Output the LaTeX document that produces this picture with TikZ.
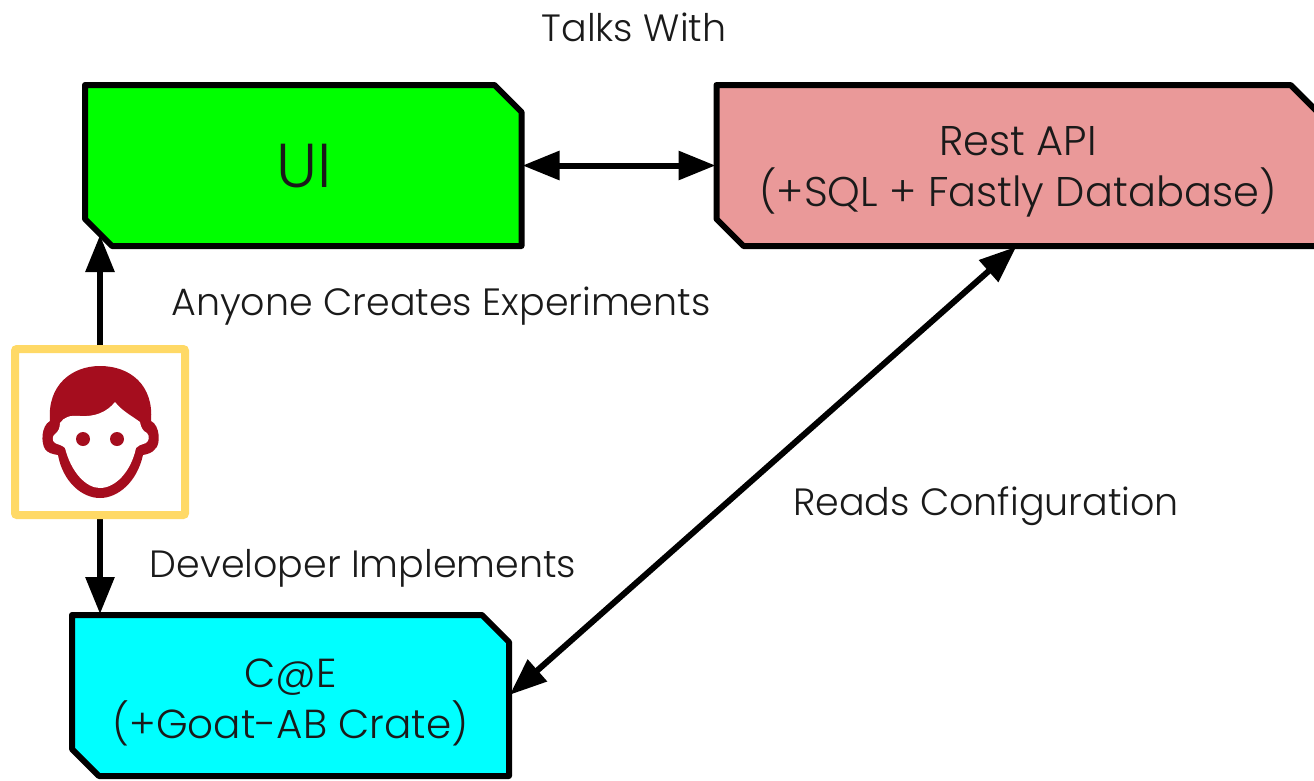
\documentclass[tikz,border=0pt]{standalone}
\usepackage{fontspec}
\setmainfont{Poppins Light}
\usetikzlibrary{arrows.meta,backgrounds}
\definecolor{uigreen}{HTML}{00FF00}
\definecolor{apipink}{HTML}{EA9999}
\definecolor{caecyan}{HTML}{00FFFF}
\definecolor{personrim}{HTML}{FFD966}
\definecolor{personred}{HTML}{A50D1E}
\definecolor{textgrey}{HTML}{1A1A1A}
\tikzset{
  x=1pt,y=-1pt,
  boxnode/.style={rectangle,outer sep=0pt,inner sep=0pt},
  boxtext/.style={inner sep=0pt,align=center,text=textgrey,font=\fontsize{41.5}{51}\selectfont},
  chamfer/.style={draw=black,line width=6pt,line join=round},
  link/.style={draw=black,line width=6pt,{Triangle[length=37pt,width=28pt]}-{Triangle[length=37pt,width=28pt]}},
  oneway/.style={draw=black,line width=6pt,-{Triangle[length=37pt,width=28pt]}},
  caption/.style={text=textgrey,inner sep=0pt,font=\fontsize{38}{45}\selectfont},
}
\newcommand{\chambox}[2]{%
  \fill[#2] (#1.north west) -- ([xshift=-27pt]#1.north east) -- ([yshift=-27pt]#1.north east)
    -- (#1.south east) -- ([xshift=27pt]#1.south west) -- ([yshift=27pt]#1.south west) -- cycle;
  \draw[chamfer] (#1.north west) -- ([xshift=-27pt]#1.north east) -- ([yshift=-27pt]#1.north east)
    -- (#1.south east) -- ([xshift=27pt]#1.south west) -- ([yshift=27pt]#1.south west) -- cycle;}
\begin{document}
\begin{tikzpicture}
\useasboundingbox (0,0) rectangle (1314,780);
\node[boxnode,minimum width=436.5pt,minimum height=161pt] (ui) at (303.25,165.5) {};
\node[boxnode,minimum width=601pt,minimum height=161pt] (api) at (1017,165.5) {};
\node[boxnode,minimum width=437pt,minimum height=161pt] (cae) at (290.5,695.5) {};
\begin{scope}[on background layer]
\chambox{ui}{uigreen}
\chambox{api}{apipink}
\chambox{cae}{caecyan}
\end{scope}
\node[boxtext,font=\fontsize{62}{70}\selectfont] (uitext) at (304,166) {UI};
\node[boxtext] (apitext) at (1018,171.5) {Rest API\\(+SQL + Fastly Database)};
\node[boxtext,font=\fontsize{40.5}{51}\selectfont] (caetext) at (290.5,702) {C@E\\(+Goat-AB Crate)};
\coordinate (uicorner) at ([xshift=15pt,yshift=11pt]ui.south west);
\draw[link,shorten <=1pt,shorten >=1pt] (ui.east) -- (api.west);
\draw[link,shorten <=1pt,shorten >=1pt] (api.south) -- (cae.east);
\node[rectangle,minimum width=170pt,minimum height=166pt,outer sep=0pt,inner sep=0pt] (person) at (100,432) {};
\draw[oneway] (person.north) -- (person.north |- uicorner);
\draw[oneway,shorten >=1pt] (person.south) -- (person.south |- cae.north);
\draw[personrim,fill=white,line width=8pt,rounded corners=2pt] (person.north west) rectangle (person.south east);
% face
\fill[personred] (50,421) .. controls (47,385) and (72,366) .. (100,366) .. controls (130,366) and (154,385) .. (151,421)
  .. controls (160,425) and (161,445) .. (155,449) .. controls (152,453) and (148,454) .. (143,455)
  .. controls (137,482) and (118,498) .. (100,498) .. controls (82,498) and (63,482) .. (58,455)
  .. controls (52,454) and (48,453) .. (45,449) .. controls (41,443) and (41,426) .. (50,421) -- cycle;
\fill[white] (60,423) .. controls (64,417) and (70,415) .. (80,416) .. controls (95,417) and (107,412) .. (115,402)
  .. controls (122,411) and (132,416) .. (140,422) .. controls (141,428) and (143,431) .. (147,433)
  .. controls (150,436) and (149,441) .. (146,443) .. controls (141,445) and (138,445) .. (136,448)
  .. controls (131,472) and (115,488) .. (100,488) .. controls (86,488) and (71,472) .. (65,448)
  .. controls (62,445) and (59,445) .. (55,443) .. controls (52,441) and (52,436) .. (55,434)
  .. controls (58,432) and (60,428) .. (60,423) -- cycle;
\fill[personred] (83,439) circle (7);
\fill[personred] (117,439) circle (7);
\node[caption] (talks) at (634,27) {Talks With};
\node[caption] (anyone) at (441,306) {Anyone Creates Experiments};
\node[caption] (reads) at (986,506) {Reads Configuration};
\node[caption] (dev) at (363,568) {Developer Implements};
\end{tikzpicture}
\end{document}
